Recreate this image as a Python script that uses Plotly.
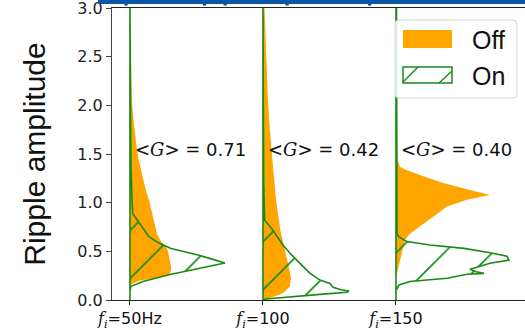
import plotly.graph_objects as go

# Categories (injection frequency) and their slots on the x axis
categories = ["50Hz", "100", "150"]
positions = [0, 1, 2]
mean_gain = ["0.71", "0.42", "0.40"]
y_ticks = [0.0, 0.5, 1.0, 1.5, 2.0, 2.5, 3.0]

# Horizontal histogram profiles: ripple amplitude levels and density at each level
off_50_amp = [0.0, 0.15, 0.17, 0.2, 0.23, 0.26, 0.3, 0.34, 0.4, 0.45, 0.5, 0.55, 0.6, 0.68, 0.77,
              0.86, 0.95, 1.03, 1.12, 1.2, 1.3, 1.37, 1.45, 1.54, 1.7, 1.85, 2.05, 2.3, 2.6, 3.0]
off_50_den = [0.0, 0.0, 0.03, 0.10, 0.30, 0.39, 0.41, 0.41, 0.40, 0.39, 0.38, 0.36, 0.31, 0.27, 0.25,
              0.23, 0.21, 0.19, 0.16, 0.14, 0.12, 0.10, 0.085, 0.07, 0.05, 0.035, 0.02, 0.015, 0.01, 0.005]

on_50_amp = [0.0, 0.1, 0.14, 0.19, 0.26, 0.325, 0.38, 0.42, 0.46, 0.53, 0.59, 0.65, 0.72, 0.79, 0.89,
             1.1, 1.37, 1.8, 3.0]
on_50_den = [0.0, 0.0, 0.01, 0.13, 0.39, 0.69, 0.95, 0.82, 0.69, 0.41, 0.28, 0.19, 0.14, 0.093, 0.027,
             0.018, 0.01, 0.006, 0.003]

off_100_amp = [0.0, 0.03, 0.07, 0.14, 0.24, 0.34, 0.42, 0.51, 0.6, 0.68, 0.85, 1.03, 1.2, 1.37, 1.58,
               1.8, 2.05, 2.3, 2.6, 3.0]
off_100_den = [0.0, 0.10, 0.20, 0.27, 0.28, 0.26, 0.24, 0.22, 0.20, 0.18, 0.155, 0.13, 0.115, 0.10, 0.083,
               0.065, 0.05, 0.04, 0.028, 0.015]

on_100_amp = [0.0, 0.01, 0.06, 0.08, 0.092, 0.105, 0.13, 0.17, 0.205, 0.274, 0.377, 0.48, 0.565, 0.65,
              0.74, 0.82, 1.2, 2.0, 3.0]
on_100_den = [0.0, 0.03, 0.60, 0.84, 0.86, 0.78, 0.70, 0.67, 0.57, 0.47, 0.37, 0.27, 0.20, 0.14,
              0.083, 0.017, 0.007, 0.004, 0.003]

off_150_amp = [0.0, 0.25, 0.27, 0.41, 0.51, 0.62, 0.68, 0.74, 0.79, 0.87, 0.96, 1.03, 1.08, 1.13, 1.2,
               1.27, 1.34, 1.37, 1.44, 2.0, 3.0]
off_150_den = [0.0, 0.0, 0.01, 0.04, 0.06, 0.09, 0.14, 0.22, 0.28, 0.39, 0.51, 0.71, 0.94, 0.74, 0.48,
               0.28, 0.09, 0.04, 0.015, 0.01, 0.005]

on_150_amp = [0.0, 0.1, 0.154, 0.19, 0.223, 0.264, 0.274, 0.29, 0.315, 0.377, 0.41, 0.45, 0.486, 0.53,
              0.565, 0.6, 0.65, 0.68, 3.0]
on_150_den = [0.0, 0.0, 0.03, 0.14, 0.51, 0.71, 0.88, 0.80, 0.74, 0.94, 1.13, 1.11, 0.94, 0.68,
              0.34, 0.11, 0.027, 0.01, 0.005]

off_series = [(off_50_amp, off_50_den), (off_100_amp, off_100_den), (off_150_amp, off_150_den)]
on_series = [(on_50_amp, on_50_den), (on_100_amp, on_100_den), (on_150_amp, on_150_den)]

DENSITY_SCALE = 0.752  # axis units per unit of density
ORANGE = "#ffa500"
GREEN = "#178a17"
Y_TOP = 3.0


def half_violin(pos, amp, den):
    xs = [pos] + [pos + d * DENSITY_SCALE for d in den] + [pos, pos]
    ys = [0.0] + list(amp) + [Y_TOP, 0.0]
    return xs, ys


fig = go.Figure()

for pos, (amp, den) in zip(positions, off_series):
    xs, ys = half_violin(pos, amp, den)
    fig.add_trace(go.Scatter(
        x=xs, y=ys, mode="lines", fill="toself", fillcolor=ORANGE,
        line=dict(width=0, color=ORANGE), name="Off", showlegend=False, hoverinfo="skip"))

for pos, (amp, den) in zip(positions, on_series):
    xs, ys = half_violin(pos, amp, den)
    fig.add_trace(go.Scatter(
        x=xs, y=ys, mode="lines", fill="toself", fillcolor="rgba(0,0,0,0)",
        fillpattern=dict(shape="/", fgcolor=GREEN, fgopacity=1, bgcolor="rgba(0,0,0,0)",
                         size=34, solidity=0.05),
        line=dict(width=1.6, color=GREEN), name="On", showlegend=False, hoverinfo="skip"))

# Mean gain labels
for pos, g in zip(positions, mean_gain):
    fig.add_annotation(
        x=pos + 0.02, y=1.55, xanchor="left", yanchor="middle", showarrow=False,
        text=('<span style="font-family:DejaVu Serif">&lt;<i>G</i>&gt; =</span> ' + g),
        font=dict(family="DejaVu Sans", size=18, color="#111"))

tick_text = ['<span style="font-family:DejaVu Serif"><i>f</i><sub><i>i</i></sub></span>=' + c
             for c in categories]

fig.update_layout(
    width=525, height=330,
    margin=dict(l=112, r=0, t=8, b=30),
    paper_bgcolor="white", plot_bgcolor="white",
    showlegend=False,
    xaxis=dict(
        range=[-0.135, 2.97], tickvals=positions, ticktext=tick_text, automargin=False,
        showgrid=False, zeroline=False, showline=True, linecolor="#222", linewidth=1.2,
        mirror=True, ticks="outside", ticklen=4, tickcolor="#222",
        tickfont=dict(family="DejaVu Sans", size=16, color="#111")),
    yaxis=dict(
        range=[0, 3.0], tickvals=y_ticks, tickformat=".1f", ticklabeloverflow="allow",
        automargin=False,
        showgrid=False, zeroline=False, showline=True, linecolor="#444", linewidth=1.2,
        ticks="outside", ticklen=5, tickcolor="#444",
        tickfont=dict(family="DejaVu Sans", size=16, color="#222"),
        title=dict(text="Ripple amplitude", standoff=22,
                   font=dict(family="Liberation Sans", size=30, color="#111"))),
)

# Legend box drawn in axes-fraction coordinates
def px_x(p):
    return (p - 112) / 413.0


def px_y(p):
    return (300 - p) / 292.0


def rounded_box(x0, y0, x1, y1, r):
    rx, ry = r / 413.0, r / 292.0
    X0, X1, Y0, Y1 = px_x(x0), px_x(x1), px_y(y1), px_y(y0)
    return (f"M{X0 + rx},{Y0} L{X1 - rx},{Y0} Q{X1},{Y0} {X1},{Y0 + ry} "
            f"L{X1},{Y1 - ry} Q{X1},{Y1} {X1 - rx},{Y1} L{X0 + rx},{Y1} "
            f"Q{X0},{Y1} {X0},{Y1 - ry} L{X0},{Y0 + ry} Q{X0},{Y0} {X0 + rx},{Y0} Z")


fig.add_shape(type="path", xref="paper", yref="paper", path=rounded_box(395, 20, 517, 98, 4),
              fillcolor="rgba(255,255,255,0.85)", line=dict(color="#d6d6d6", width=1), layer="above")
fig.add_shape(type="rect", xref="paper", yref="paper",
              x0=px_x(403), x1=px_x(452), y0=px_y(48), y1=px_y(30),
              fillcolor=ORANGE, line=dict(width=0), layer="above")
fig.add_shape(type="rect", xref="paper", yref="paper",
              x0=px_x(403), x1=px_x(452), y0=px_y(83), y1=px_y(67),
              fillcolor="rgba(0,0,0,0)", line=dict(color=GREEN, width=1.5), layer="above")
for (a, b, c, d) in [(403, 82, 418, 67), (439, 83, 452, 71)]:
    fig.add_shape(type="line", xref="paper", yref="paper",
                  x0=px_x(a), y0=px_y(b), x1=px_x(c), y1=px_y(d),
                  line=dict(color=GREEN, width=1.4), layer="above")
for label, yc in [("Off", 40), ("On", 76)]:
    fig.add_annotation(x=px_x(470), y=px_y(yc), xref="paper", yref="paper",
                       xanchor="left", yanchor="middle", showarrow=False, text=label,
                       font=dict(family="Liberation Sans", size=25, color="#111"))

# Edge of the blue panel above the axes
fig.add_shape(type="rect", xref="paper", yref="paper",
              x0=-0.034, x1=1.0, y0=1.0137, y1=1.06,
              fillcolor="#0a55a5", line=dict(width=0), layer="above")
for xp in [0.03, 0.22, 0.27, 0.42, 0.62]:
    fig.add_shape(type="rect", xref="paper", yref="paper",
                  x0=xp, x1=xp + 0.008, y0=1.008, y1=1.015,
                  fillcolor="#0a55a5", line=dict(width=0), layer="above")

fig.write_html("out.html")
